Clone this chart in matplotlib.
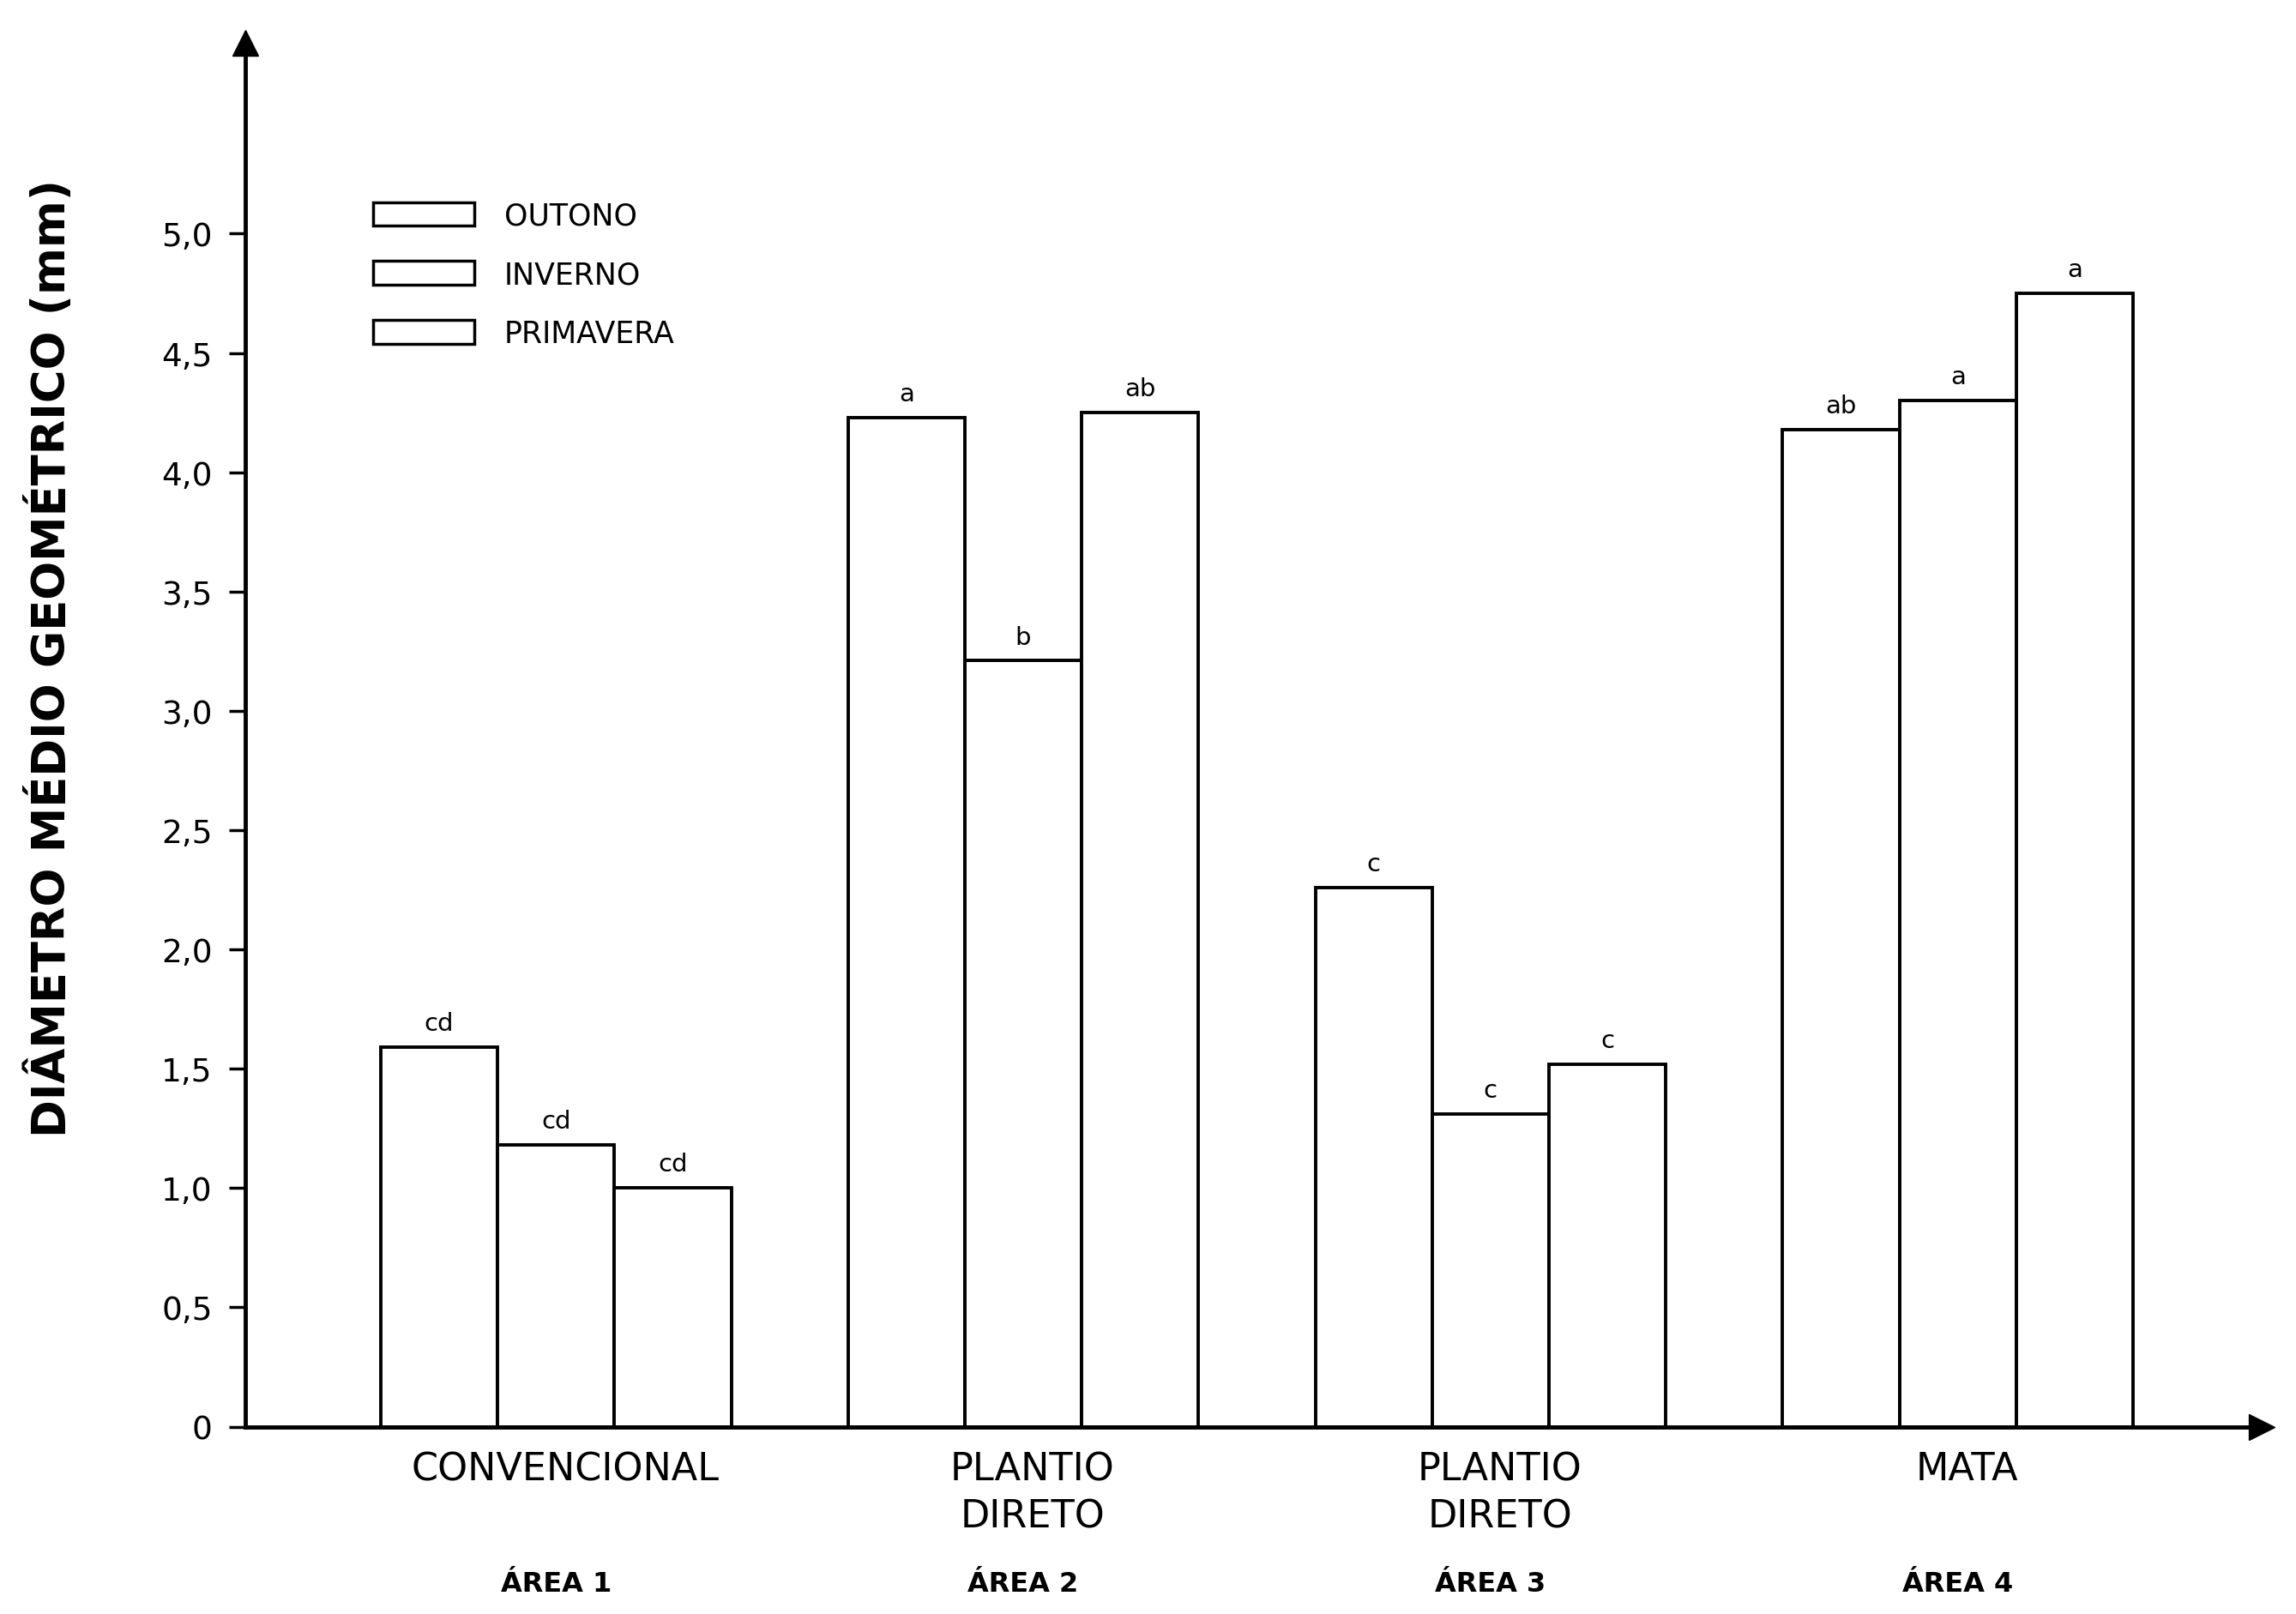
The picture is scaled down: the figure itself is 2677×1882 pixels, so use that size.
import numpy as np
import matplotlib.pyplot as plt
from matplotlib.patches import Patch

# values
areas = ['ÁREA 1', 'ÁREA 2', 'ÁREA 3', 'ÁREA 4']
systems = ['CONVENCIONAL', 'PLANTIO\nDIRETO', 'PLANTIO\nDIRETO', 'MATA']
seasons = ['OUTONO', 'INVERNO', 'PRIMAVERA']
outono = [1.59, 4.23, 2.26, 4.18]
inverno = [1.18, 3.21, 1.31, 4.30]
primavera = [1.00, 4.25, 1.52, 4.75]
letters_outono = ['cd', 'a', 'c', 'ab']
letters_inverno = ['cd', 'b', 'c', 'a']
letters_primavera = ['cd', 'ab', 'c', 'a']
yticks = [0, 0.5, 1.0, 1.5, 2.0, 2.5, 3.0, 3.5, 4.0, 4.5, 5.0]
ytick_labels = ['0', '0,5', '1,0', '1,5', '2,0', '2,5', '3,0', '3,5', '4,0', '4,5', '5,0']

plt.rcParams['font.family'] = 'DejaVu Sans'

fig = plt.figure(figsize=(26.77, 18.83), dpi=100)
ax = fig.add_axes([0.107, 0.116, 0.878, 0.857])

x = np.arange(len(areas))
w = 0.25
series = [outono, inverno, primavera]
letters = [letters_outono, letters_inverno, letters_primavera]
for i in range(3):
    xs = x + (i - 1) * w
    ax.bar(xs, series[i], width=w, facecolor='white', edgecolor='black', linewidth=2.8)
    for xx, v, t in zip(xs, series[i], letters[i]):
        ax.text(xx, v + 0.05, t, ha='center', va='bottom', fontsize=21)

ax.set_xlim(-0.664, 3.65)
ax.set_ylim(0, 5.8)

for s in ['top', 'right']:
    ax.spines[s].set_visible(False)
ax.spines['left'].set_linewidth(3.5)
ax.spines['bottom'].set_linewidth(3.5)
ax.plot(0, 1, marker='^', color='black', markersize=22, transform=ax.transAxes, clip_on=False)
ax.plot(1, 0, marker='>', color='black', markersize=22, transform=ax.transAxes, clip_on=False)

ax.set_yticks(yticks)
ax.set_yticklabels(ytick_labels)
ax.tick_params(axis='y', direction='out', length=14, width=2.5, pad=14, labelsize=27)
ax.set_xticks([])

ax.set_ylabel('DIÂMETRO MÉDIO GEOMÉTRICO (mm)', fontsize=38, fontweight='bold')
ax.yaxis.set_label_coords(-0.085, 0.556)

for xx, s, a in zip(x, systems, areas):
    ax.text(xx + 0.02, -0.1, s, ha='center', va='top', fontsize=32, linespacing=1.35)
    ax.text(xx, -0.6, a, ha='center', va='top', fontsize=23, fontweight='bold')

handles = [Patch(facecolor='white', edgecolor='black', linewidth=2.5) for _ in seasons]
ax.legend(handles, seasons, loc='upper left', bbox_to_anchor=(0.05, 0.905), frameon=False,
          fontsize=25, handlelength=3.4, handleheight=0.85, labelspacing=1.0, handletextpad=1.0)

fig.savefig('out.png', dpi=100)
